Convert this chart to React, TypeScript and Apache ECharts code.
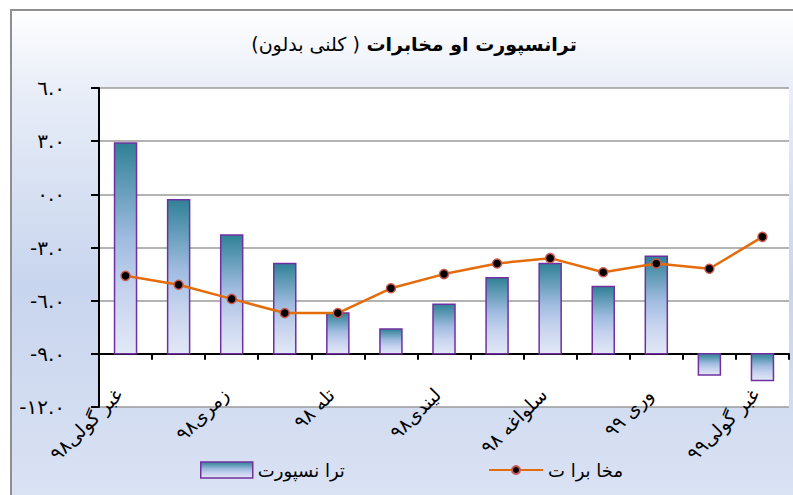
import React, { useEffect, useRef } from "react";
import * as echarts from "echarts";

const categories = [
  "غبر گولی۹۸",
  "چنگاښ ۹۸",
  "زمری۹۸",
  "وږی ۹۸",
  "تله ۹۸",
  "لړم ۹۸",
  "لیندی۹۸",
  "مرغومی ۹۸",
  "سلواغه ۹۸",
  "کب ۹۸",
  "وری ۹۹",
  "غویی ۹۹",
  "غبر گولی۹۹",
];
const transportValues = [2.9, -0.3, -2.3, -3.9, -6.7, -7.6, -6.2, -4.7, -3.9, -5.2, -3.5, -10.2, -10.5];
const communicationValues = [-4.6, -5.1, -5.9, -6.7, -6.7, -5.3, -4.5, -3.9, -3.6, -4.4, -3.9, -4.2, -2.4];
const yTickLabels = ["-١٢.٠", "-٩.٠", "-٦.٠", "-٣.٠", "٠.٠", "٣.٠", "٦.٠"];
const Y_MIN = -12;
const Y_MAX = 6;
const Y_STEP = 3;
const BAR_BASE = -9;

const SERIES_BAR = "ترا نسپورت";
const SERIES_LINE = "مخا برا ت";
const TITLE_MAIN = "ترانسپورت او مخابرات";
const TITLE_SUB = "(کلنی بدلون )";

const FONT = "'DejaVu Sans', 'Noto Sans', sans-serif";

export default function App() {
  const ref = useRef<HTMLDivElement>(null);

  useEffect(() => {
    if (!ref.current) return;
    const chart = echarts.init(ref.current, undefined, { renderer: "svg" });
    const barGradient = () =>
      new echarts.graphic.LinearGradient(0, 0, 0, 1, [
        { offset: 0, color: "#2f8196" },
        { offset: 0.45, color: "#9fbbdf" },
        { offset: 0.7, color: "#c6d3ee" },
        { offset: 1, color: "#e2e8f6" },
      ]);

    chart.setOption({
      animation: false,
      backgroundColor: "transparent",
      textStyle: { fontFamily: FONT },
      title: {
        text: `{a|${TITLE_SUB}} {b|${TITLE_MAIN}}`,
        left: 409,
        textAlign: "center",
        top: 29,
        textStyle: {
          fontFamily: FONT,
          fontSize: 19,
          color: "#000",
          rich: {
            a: { fontSize: 19, fontWeight: "normal", color: "#000", fontFamily: FONT },
            b: { fontSize: 19, fontWeight: "bold", color: "#000", fontFamily: FONT },
          },
        },
      },
      legend: [
        {
          data: [
            {
              name: SERIES_BAR,
              icon: "rect",
              itemStyle: { color: barGradient(), borderColor: "#7030a0", borderWidth: 1.5 },
            },
          ],
          left: 195,
          top: 456,
          itemWidth: 52,
          itemHeight: 16,
          itemGap: 10,
          textStyle: { fontSize: 18, color: "#000", fontFamily: FONT },
        },
        {
          data: [{ name: SERIES_LINE }],
          left: 483,
          top: 456,
          itemWidth: 54,
          itemHeight: 10,
          textStyle: { fontSize: 18, color: "#000", fontFamily: FONT },
        },
      ],
      grid: {
        left: 99,
        top: 88,
        width: 690,
        height: 319,
        show: true,
        backgroundColor: "#ffffff",
        borderWidth: 0,
      },
      xAxis: {
        type: "category",
        data: categories,
        boundaryGap: true,
        axisLine: {
          show: true,
          onZero: true,
          onZeroAxisIndex: 1,
          lineStyle: { color: "#000", width: 2 },
        },
        axisTick: { show: true, interval: 0, length: 6, lineStyle: { color: "#000", width: 2 } },
        axisLabel: {
          interval: 1,
          rotate: 45,
          fontSize: 19,
          color: "#000",
          margin: -9,
          verticalAlign: "bottom",
          fontFamily: FONT,
        },
        splitLine: { show: false },
      },
      yAxis: [
        {
          type: "value",
          min: Y_MIN,
          max: Y_MAX,
          interval: Y_STEP,
          axisLine: { show: true, lineStyle: { color: "#000", width: 2 } },
          axisTick: { show: true, length: 8, lineStyle: { color: "#000", width: 2 } },
          axisLabel: {
            margin: 34,
            fontSize: 20,
            color: "#000",
            fontFamily: FONT,
            formatter: (v: number) => yTickLabels[Math.round((v - Y_MIN) / Y_STEP)] ?? "",
          },
          splitLine: { show: true, lineStyle: { color: "#9a9a9a", width: 1.5 } },
        },
        {
          type: "value",
          show: false,
          min: Y_MIN - BAR_BASE,
          max: Y_MAX - BAR_BASE,
          interval: Y_STEP,
          splitLine: { show: false },
        },
      ],
      series: [
        {
          type: "custom",
          name: SERIES_BAR,
          data: transportValues.map((v, i) => [i, v]),
          encode: { x: 0, y: 1 },
          itemStyle: { color: "#5b9bb0", borderColor: "#7030a0" },
          z: 2,
          renderItem: (params: any, api: any) => {
            const i = api.value(0);
            const v = api.value(1);
            const top = api.coord([i, v]);
            const base = api.coord([i, BAR_BASE]);
            const w = 22;
            return {
              type: "rect",
              shape: {
                x: top[0] - w / 2,
                y: Math.min(top[1], base[1]),
                width: w,
                height: Math.abs(base[1] - top[1]),
              },
              style: { fill: barGradient(), stroke: "#7030a0", lineWidth: 1.5 },
            };
          },
        },
        {
          type: "line",
          name: SERIES_LINE,
          data: communicationValues,
          symbol: "circle",
          symbolSize: 9,
          lineStyle: { color: "#e46c0a", width: 2.5 },
          itemStyle: { color: "#000", borderColor: "#c9574f", borderWidth: 1.5 },
          z: 3,
        },
      ],
    });
    return () => chart.dispose();
  }, []);

  return (
    <div style={{ position: "fixed", left: 0, top: 0, width: 793, height: 495, background: "#fff", overflow: "hidden" }}>
      <div
        style={{
          position: "absolute",
          left: 10,
          top: 9,
          width: 800,
          height: 500,
          border: "2px solid #8f8f8f",
          background: "linear-gradient(to bottom, #ffffff 0%, #e9eef8 15%, #c8d5ee 55%, #d3ddf1 80%, #dbe3f4 100%)",
        }}
      />
      <div ref={ref} style={{ position: "absolute", left: 0, top: 0, width: 793, height: 495 }} />
    </div>
  );
}
